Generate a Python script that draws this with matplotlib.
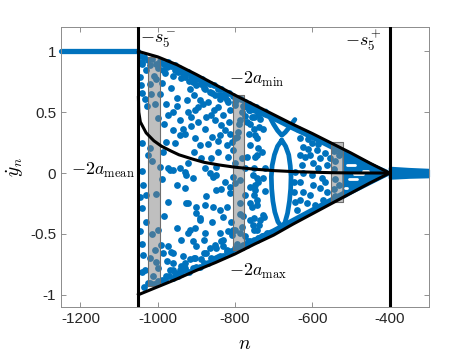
import matplotlib
matplotlib.use("Agg")
import matplotlib.pyplot as plt

plt.rcParams['font.family'] = ['Liberation Sans', 'DejaVu Sans']
plt.rcParams['mathtext.fontset'] = 'cm'
plt.rcParams['axes.unicode_minus'] = False

blue = '#0072BD'

# envelopes -2a_min (upper) and -2a_max (lower), and the mean curve
env_n = [-1050, -1000, -950, -900, -850, -800, -750, -700, -650, -600, -550, -500, -450, -400]
env_min = [1.0, 0.955, 0.89, 0.81, 0.725, 0.64, 0.56, 0.48, 0.40, 0.325, 0.245, 0.165, 0.08, 0.0]
env_max = [-1.0, -0.935, -0.87, -0.80, -0.735, -0.665, -0.585, -0.51, -0.42, -0.335, -0.25, -0.165, -0.08, 0.0]
mean_n = [-1050, -1049, -1045, -1030, -1010, -990, -965, -945, -910, -880, -840, -800,
          -750, -700, -650, -600, -550, -500, -400]
mean_y = [0.62, 0.50, 0.42, 0.33, 0.265, 0.22, 0.18, 0.15, 0.115, 0.088, 0.066, 0.048,
          0.032, 0.02, 0.012, 0.007, 0.003, 0.001, 0.0]
s_minus = -1050
s_plus = -400

# shaded windows
band_left = [-1025, -805, -552]
band_right = [-995, -776, -521]
band_bottom = [-0.93, -0.635, -0.24]
band_top = [0.955, 0.645, 0.257]

# plateau before s5- and tail after s5+
flat_n = [-1250, -1050]
flat_y = [1.0, 1.0]
tail_n = [-400, -350, -300]
tail_top = [0.045, 0.035, 0.028]
tail_bot = [-0.04, -0.032, -0.028]

# dense bands of points hugging the envelopes
upband_n = [-770, -700, -650, -600, -550, -500, -450, -410]
upband_y = [0.54, 0.455, 0.375, 0.30, 0.22, 0.14, 0.06, 0.005]
lowband_n = [-740, -700, -650, -600, -550, -500, -450, -410]
lowband_y = [-0.54, -0.48, -0.395, -0.31, -0.225, -0.14, -0.06, -0.005]

# nearly solid region close to s5+
wedge_n = [-520, -500, -450, -400]
wedge_top = [0.19, 0.16, 0.08, 0.0]
wedge_bot = [-0.195, -0.16, -0.08, 0.0]
hole_n0 = [-505, -515, -510, -470, -492]
hole_n1 = [-484, -509, -490, -455, -470]
hole_y = [-0.05, -0.12, 0.065, 0.015, -0.005]

# point chains forming curves
vee_n = [-720, -710, -700, -690, -679, -670, -661, -653, -645]
vee_y = [0.51, 0.46, 0.40, 0.35, 0.31, 0.335, 0.37, 0.405, 0.44]
loop_n = [-679, -690, -698, -704, -706, -705, -702, -697, -689, -680, -671, -664, -659,
          -656, -655, -657, -661, -669, -679]
loop_y = [0.27, 0.22, 0.15, 0.06, -0.03, -0.13, -0.23, -0.32, -0.40, -0.44, -0.41, -0.33,
          -0.23, -0.13, -0.03, 0.06, 0.15, 0.22, 0.27]

# scattered iterates
pts_n = [
    -1042, -1047, -1044, -1034, -1021, -1017, -1008, -1004, -999, -986, -973, -978, -973, -960,
    -956, -947, -939, -930, -921, -917, -908, -900, -887, -878, -865, -852, -839, -826, -817,
    -800, -783, -943, -934, -921, -913, -904, -895, -882, -878, -874, -861, -852, -843, -835,
    -839, -826, -822, -809, -800, -791, -770, -761, -748, -740, -744, -1025, -1021, -986, -978,
    -956, -943, -930, -904, -891, -887, -921, -973, -960, -943, -930, -878, -861, -783, -774,
    -800, -843, -817, -813, -787, -765, -752, -813, -796, -765, -739, -804, -770,
    -1045, -1035, -1025, -1015, -1005, -995, -985, -975, -965, -955, -945, -935, -925, -915,
    -905, -895, -885, -875, -865, -855, -845, -835, -825, -815, -805, -795, -785, -775, -765,
    -755, -745, -735, -725,
    -1040, -1020, -1000, -980, -960, -940, -920, -900, -880, -860, -840, -820, -800, -780,
    -760, -740,
    -1030, -1010, -990, -1040, -1028, -995, -965, -950, -925, -905, -890, -870, -855, -830,
    -815, -790, -775, -760, -950, -915, -895, -860, -870, -845, -960, -985, -1000, -1040,
    -1015, -995, -1040, -905, -850,
    -1038, -1030, -1042, -1047, -1038, -1034, -1042, -1025, -1004, -999, -1008, -1004, -1012,
    -991, -986, -973, -973, -965, -969, -978, -956, -943, -930, -947, -930, -921, -926, -908,
    -921, -917, -904, -900, -891, -904, -878, -874, -878, -874, -887, -865, -852, -839, -856,
    -848, -865, -835, -826, -830, -835, -822, -817, -843, -861, -809, -800, -800, -804, -787,
    -787, -783, -774, -761, -753, -744, -757, -748, -740, -753, -735, -766,
    -1045, -1030, -1040, -1020, -985, -950, -940, -930, -900, -880, -860, -840, -820, -830,
    -810, -795, -780, -760, -775, -950, -990, -1015, -1000, -975, -960, -935, -910,
    -1035, -1020, -1010, -1000, -990, -980, -970, -960, -950, -940, -930, -920, -910, -900,
    -890, -880, -870, -860, -850, -840, -830, -820, -810, -800, -790, -780, -770, -760, -750,
    -740, -730, -960, -940, -905, -880, -850, -830,
    -969, -926, -900, -891, -917, -856, -848, -813, -960, -813, -787, -761, -744, -804, -787,
    -752, -726, -770, -744, -718,
    -757, -752, -744, -748, -752, -744, -748, -752, -744, -752, -739, -727, -722, -727, -722,
    -731, -727, -735,
    -636, -631, -623, -631, -627, -623, -631, -623, -631, -640, -610, -601, -605, -597, -601,
    -597, -605, -588, -579, -584, -575, -579, -566, -562, -566, -562, -618, -644, -648, -647,
    -644, -614, -592, -571, -555, -545, -540, -545, -540, -545, -540, -532, -530, -612, -585,
]
pts_y = [
    0.90, 0.79, 0.72, 0.61, 0.735, 0.65, 0.57, 0.776, 0.885, 0.844, 0.912, 0.57, 0.475, 0.50,
    0.885, 0.83, 0.85, 0.79, 0.83, 0.694, 0.749, 0.776, 0.735, 0.694, 0.666, 0.639, 0.612, 0.625,
    0.585, 0.557, 0.50, 0.434, 0.366, 0.503, 0.462, 0.516, 0.543, 0.571, 0.366, 0.462, 0.475,
    0.434, 0.543, 0.393, 0.311, 0.352, 0.229, 0.257, 0.284, 0.339, 0.42, 0.229, 0.311, 0.202,
    0.147, 0.147, 0.202, 0.175, 0.257, 0.243, 0.311, 0.325, 0.284, 0.229, 0.12, 0.079, 0.038,
    0.024, 0.038, 0.011, 0.038, 0.12, 0.12, 0.038, 0.085, 0.175, 0.134, 0.52, 0.435, 0.52,
    0.46, 0.325, 0.30, 0.325, 0.38, 0.189, 0.134,
    0.96, 0.95, 0.93, 0.94, 0.90, 0.92, 0.90, 0.87, 0.88, 0.85, 0.86, 0.82, 0.83, 0.80, 0.79,
    0.77, 0.77, 0.74, 0.73, 0.72, 0.69, 0.69, 0.66, 0.66, 0.63, 0.61, 0.61, 0.58, 0.57, 0.55,
    0.54, 0.51, 0.50,
    0.91, 0.89, 0.86, 0.82, 0.80, 0.78, 0.76, 0.72, 0.70, 0.66, 0.64, 0.60, 0.58, 0.55, 0.52,
    0.48,
    0.85, 0.80, 0.74, 0.66, 0.55, 0.65, 0.70, 0.62, 0.60, 0.64, 0.60, 0.58, 0.52, 0.48, 0.42,
    0.40, 0.47, 0.40, 0.55, 0.39, 0.42, 0.30, 0.24, 0.26, 0.35, 0.40, 0.45, 0.25, 0.10, 0.05,
    0.02, 0.17, 0.05,
    -0.10, -0.18, -0.29, -0.48, -0.67, -0.80, -0.81, -0.90, -0.17, -0.47, -0.63, -0.73, -0.85,
    -0.59, -0.66, -0.24, -0.60, -0.645, -0.80, -0.85, -0.82, -0.80, -0.78, -0.85, -0.74, -0.25,
    -0.016, -0.044, -0.49, -0.71, -0.70, -0.33, -0.37, -0.45, -0.26, -0.19, -0.49, -0.66, -0.71,
    -0.62, -0.59, -0.49, -0.03, -0.016, -0.003, -0.13, -0.07, -0.36, -0.56, -0.63, -0.48, -0.69,
    -0.70, -0.51, -0.47, -0.085, -0.03, -0.25, -0.34, -0.44, -0.52, -0.385, -0.43, -0.47, -0.28,
    -0.14, -0.07, -0.016, -0.385, -0.56,
    -0.20, -0.40, -0.58, -0.70, -0.35, -0.45, -0.55, -0.12, -0.60, -0.55, -0.40, -0.30, -0.28,
    -0.55, -0.40, -0.58, -0.35, -0.25, -0.18, -0.10, -0.05, -0.50, -0.78, -0.72, -0.74, -0.68,
    -0.56,
    -0.94, -0.90, -0.91, -0.89, -0.88, -0.88, -0.85, -0.86, -0.83, -0.83, -0.80, -0.81, -0.78,
    -0.77, -0.77, -0.74, -0.74, -0.71, -0.70, -0.68, -0.68, -0.65, -0.64, -0.62, -0.62, -0.59,
    -0.58, -0.56, -0.55, -0.53, -0.52, -0.80, -0.76, -0.70, -0.66, -0.62, -0.60,
    0.025, -0.249, -0.276, -0.385, -0.467, -0.276, -0.139, -0.167, -0.658, -0.112, -0.057,
    -0.112, -0.22, -0.467, -0.495, -0.467, -0.358, -0.59, -0.549, -0.495,
    0.46, 0.366, 0.284, 0.134, 0.038, -0.044, -0.098, -0.18, -0.26, -0.37, -0.43, -0.345,
    -0.15, -0.044, 0.038, 0.175, 0.366, 0.448,
    0.366, 0.284, 0.216, 0.147, 0.065, -0.003, -0.071, -0.153, -0.222, -0.304, 0.28, 0.243,
    0.147, 0.079, -0.017, -0.098, -0.18, 0.188, 0.12, 0.038, -0.044, -0.126, 0.161, 0.065,
    -0.071, -0.153, 0.134, 0.01, -0.07, -0.153, -0.235, -0.25, -0.26, -0.22, 0.12, 0.18, 0.10,
    0.03, -0.05, -0.13, -0.19, 0.15, -0.10, 0.20, 0.24,
]

fig = plt.figure(figsize=(4.74, 3.56), dpi=100)
ax = fig.add_axes([0.129, 0.138, 0.776, 0.786])

# point cloud
ax.plot(flat_n, flat_y, color=blue, lw=3.8, solid_capstyle='round', clip_on=False, zorder=2)
ax.fill_between(tail_n, tail_bot, tail_top, color=blue, lw=2, edgecolor=blue, clip_on=False, zorder=2)
ax.fill_between(wedge_n, wedge_bot, wedge_top, color=blue, lw=2, edgecolor=blue, zorder=2)
for a, b, c in zip(hole_n0, hole_n1, hole_y):
    ax.plot([a, b], [c, c], color='white', lw=2.0, solid_capstyle='round', zorder=2.1)
ax.plot(upband_n, upband_y, color=blue, lw=4.5, solid_capstyle='round', zorder=2)
ax.plot(lowband_n, lowband_y, color=blue, lw=4.5, solid_capstyle='round', zorder=2)
ax.plot(vee_n, vee_y, color=blue, lw=3.4, solid_capstyle='round', zorder=2)
ax.plot(loop_n, loop_y, color=blue, lw=3.4, solid_capstyle='round', zorder=2)
ax.scatter(pts_n, pts_y, s=24, color=blue, linewidths=0, zorder=2)

# shaded windows
for l, r, b, t in zip(band_left, band_right, band_bottom, band_top):
    ax.fill_between([l, r], [b, b], [t, t], facecolor=(0.5, 0.5, 0.5), alpha=0.5,
                    edgecolor='none', zorder=3)
    ax.plot([l, l, r, r, l], [b, t, t, b, b], color='#6e6e6e', lw=0.8, zorder=3)

# black curves
ax.plot(env_n, env_min, color='k', lw=2.2, zorder=4)
ax.plot(env_n, env_max, color='k', lw=2.2, zorder=4)
ax.plot(mean_n, mean_y, color='k', lw=2.2, zorder=4)
ax.axvline(s_minus, color='k', lw=2.2, zorder=4)
ax.axvline(s_plus, color='k', lw=2.2, zorder=4)

ax.text(-1047, 1.09, r'$-s_5^-$', fontsize=13, ha='left', va='center')
ax.text(-420, 1.09, r'$-s_5^+$', fontsize=13, ha='right', va='center')
ax.text(-816, 0.77, r'$-2a_{\min}$', fontsize=13, ha='left', va='center')
ax.text(-1224, 0.02, r'$-2a_{\mathrm{mean}}$', fontsize=13, ha='left', va='center')
ax.text(-816, -0.81, r'$-2a_{\max}$', fontsize=13, ha='left', va='center')

ax.set_xlim(-1250, -298)
ax.set_ylim(-1.1, 1.2)
ax.set_xticks([-1200, -1000, -800, -600, -400])
ax.set_yticks([-1, -0.5, 0, 0.5, 1])
ax.set_yticklabels(['-1', '-0.5', '0', '0.5', '1'])
ax.tick_params(direction='in', length=3.5, width=0.6, colors='#7f7f7f', labelcolor='#262626',
               labelsize=11, top=True, right=True)
for sp in ax.spines.values():
    sp.set_color('#8c8c8c')
    sp.set_linewidth(0.7)

ax.set_xlabel(r'$n$', fontsize=14)
ax.set_ylabel(r'$\dot{y}_n$', fontsize=14)
ax.xaxis.set_label_coords(0.5, -0.105)
ax.yaxis.set_label_coords(-0.095, 0.5)

fig.savefig('out.png', dpi=100)
